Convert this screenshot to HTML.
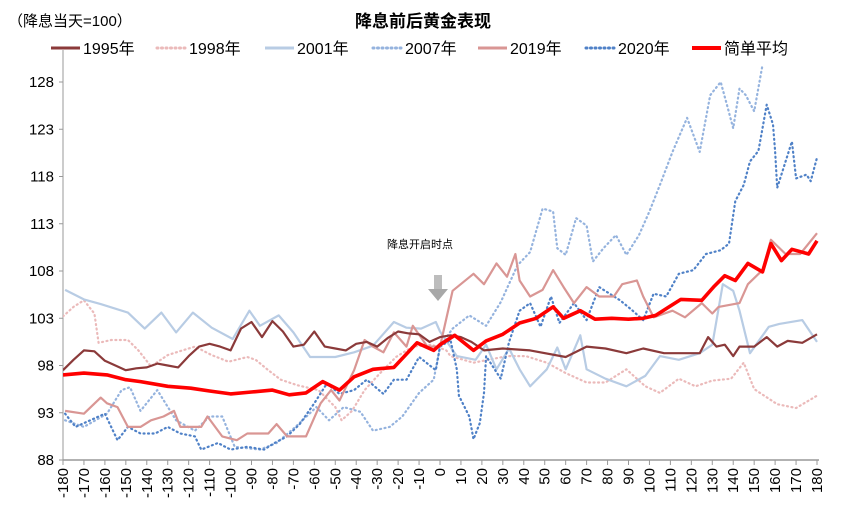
<!DOCTYPE html>
<html><head><meta charset="utf-8">
<style>
body{margin:0;background:#fff;font-family:"Liberation Sans","Noto Sans CJK SC",sans-serif;}
svg text{font-family:"Liberation Sans","Noto Sans CJK SC",sans-serif;}
</style></head>
<body>
<svg id="chart" width="843" height="514" viewBox="0 0 843 514" xmlns="http://www.w3.org/2000/svg">
<text x="8" y="26" font-size="15" fill="#000">（降息当天=100）</text>
<text x="423" y="27" font-size="17" font-weight="bold" text-anchor="middle" fill="#000">降息前后黄金表现</text>
<g id="legend"></g>
<g id="axes"></g>
<g id="series"></g>
<text x="420" y="248" font-size="11" text-anchor="middle" fill="#000">降息开启时点</text>
<g>
<rect x="434" y="275" width="8" height="14" fill="#bdbdbd"/>
<polygon points="428,289 448,289 438,301" fill="#a8a8a8"/>
</g>
</svg>
<script>
const yTicks=[88,93,98,103,108,113,118,123,128];
const xTicks=[-180,-170,-160,-150,-140,-130,-120,-110,-100,-90,-80,-70,-60,-50,-40,-30,-20,-10,0,10,20,30,40,50,60,70,80,90,100,110,120,130,140,150,160,170,180];
const seriesNames=["1995年","1998年","2001年","2007年","2019年","2020年","简单平均"];
const days1995=[-180,-175,-170,-165,-160,-155,-150,-145,-140,-135,-130,-125,-120,-115,-110,-105,-100,-95,-90,-85,-80,-75,-70,-65,-60,-55,-50,-45,-40,-35,-30,-25,-20,-15,-10,-5,0,5,10,15,21,30,43,60,70,79,89,97,107,118,124,128,132,136,140,143,150,156,161,166,173,180];
const vals1995=[97.5,98.6,99.6,99.5,98.5,98.0,97.5,97.7,97.8,98.2,98.0,97.8,99.0,100.0,100.3,100.0,99.6,101.9,102.6,101.0,102.7,101.6,100.0,100.2,101.6,100.0,99.8,99.6,100.3,100.5,100.0,100.9,101.6,101.4,101.3,100.5,101.0,101.2,101.0,100.5,99.6,99.8,99.6,98.9,100.0,99.8,99.3,99.8,99.3,99.3,99.3,101.0,100.0,100.2,99.0,100.0,100.0,101.0,100.0,100.6,100.4,101.3];
const days1998=[-180,-175,-170,-165,-163,-157,-149,-144,-138,-130,-123,-117,-109,-101,-92,-88,-82,-76,-68,-58,-50,-47,-42,-36,-29,-21,-13,-4,3,5,16,32,41,51,60,70,79,89,98,105,114,122,130,139,145,150,161,170,180];
const vals1998=[103.2,104.2,104.9,103.5,100.4,100.7,100.7,99.6,97.9,99.1,99.6,100.0,99.1,98.4,98.9,98.6,97.5,96.5,95.9,95.4,93.6,92.2,93.2,95.4,97.1,98.9,100.0,100.2,99.6,99.0,98.3,99.0,99.0,98.3,97.2,96.2,96.2,97.6,95.8,95.1,96.6,95.8,96.4,96.6,98.3,95.5,93.9,93.5,94.8];
const days2001=[-179,-170,-162,-149,-141,-133,-126,-118,-109,-99,-91,-86,-77,-70,-62,-50,-41,-32,-22,-16,-9,-2,0,8,17,22,27,33,38,43,51,56,60,67,70,79,89,98,105,114,124,130,135,140,143,148,157,162,173,180];
const vals2001=[106.0,105.0,104.5,103.6,101.9,103.6,101.5,103.6,102.0,100.8,103.8,102.2,103.3,101.5,98.9,98.9,99.4,100.1,102.6,102.0,101.9,102.6,101.6,99.0,98.6,100.2,97.6,99.8,97.6,95.8,97.6,99.9,97.6,101.2,97.6,96.6,95.8,96.9,99.0,98.6,99.3,100.2,106.6,105.9,103.8,99.3,102.1,102.4,102.8,100.5];
const days2007=[-179,-170,-159,-152,-148,-143,-135,-126,-117,-110,-104,-98,-86,-78,-69,-59,-53,-46,-38,-32,-24,-18,-10,-3,0,6,14,22,29,37,43,49,54,56,60,65,70,73,78,84,89,95,100,105,111,118,124,129,134,137,140,143,146,150,154];
const vals2007=[92.2,91.5,92.9,95.4,95.7,93.2,95.4,92.2,91.1,92.6,92.6,89.4,89.1,89.8,91.5,93.6,92.2,93.6,93.1,91.1,91.5,92.6,95.1,96.5,100.0,101.9,103.3,102.2,104.7,108.6,110.0,114.6,114.3,110.4,109.7,113.6,112.8,109.0,110.4,111.8,109.7,111.8,114.3,117.1,120.6,124.2,120.6,126.6,128.0,125.6,123.1,127.3,126.6,124.9,129.8];
const days2019=[-179,-170,-162,-159,-154,-149,-143,-138,-132,-127,-124,-114,-111,-104,-97,-92,-82,-78,-73,-64,-57,-52,-48,-41,-36,-32,-27,-22,-16,-13,-6,0,6,16,21,27,32,36,38,43,49,54,59,64,70,76,83,87,94,97,102,111,117,125,130,133,143,147,154,158,165,172,180];
const vals2019=[93.2,92.9,94.6,94.0,93.6,91.5,91.5,92.2,92.6,93.2,91.5,91.5,92.6,90.5,90.1,90.8,90.8,91.8,90.5,90.5,94.0,95.4,94.3,97.5,100.7,100.0,99.4,101.5,100.0,102.2,100.0,100.0,105.9,107.7,106.6,108.8,107.4,109.8,107.0,105.3,106.0,108.1,106.3,104.6,106.3,105.3,105.3,106.6,107.0,105.3,103.1,103.8,103.1,104.6,103.5,104.2,104.6,106.6,108.1,111.3,109.8,109.8,112.0];
const days2020=[-179,-174,-167,-160,-154,-149,-143,-136,-130,-124,-117,-114,-106,-100,-92,-84,-79,-73,-67,-60,-54,-48,-41,-35,-27,-22,-16,-10,-2,0,5,8,9,14,16,19,21,22,29,33,38,43,48,53,57,64,70,76,81,86,92,97,102,108,114,121,127,134,138,141,145,148,152,154,156,159,160,161,164,168,170,175,177,180];
const vals2020=[92.9,91.5,92.2,92.9,90.1,91.5,90.8,90.8,91.5,90.8,90.5,89.1,89.8,89.1,89.4,89.1,89.8,90.5,91.8,94.0,96.1,95.0,95.4,96.5,95.0,96.5,96.5,98.9,97.5,100.0,100.7,97.6,94.8,92.6,90.2,91.9,95.1,99.0,96.6,100.5,103.8,104.6,102.1,105.3,102.5,104.6,102.8,106.3,105.6,104.9,103.8,102.8,105.6,105.3,107.7,108.1,109.8,110.2,110.9,115.4,117.1,119.6,120.7,123.1,125.6,123.5,120.7,116.8,118.9,121.7,117.8,118.2,117.5,120.0];
const daysAvg=[-180,-170,-159,-150,-143,-130,-119,-110,-100,-90,-80,-72,-64,-56,-48,-41,-32,-22,-11,-3,0,7,16,22,30,38,46,54,59,67,74,82,90,97,103,110,115,125,131,136,141,147,154,158,163,168,176,180];
const valsAvg=[97.0,97.2,97.0,96.5,96.3,95.8,95.6,95.3,95.0,95.2,95.4,94.9,95.1,96.3,95.4,96.8,97.6,97.8,100.4,99.6,100.2,101.2,99.6,100.6,101.3,102.5,103.0,104.2,103.0,103.8,102.9,103.0,102.9,103.0,103.3,104.3,105.0,104.9,106.4,107.5,107.0,108.8,107.9,110.9,109.1,110.3,109.8,111.2];

const NS="http://www.w3.org/2000/svg";
const L=63,R=817,T=50,B=460;
function xScale(d){return L+(d+180)/360*(R-L);}
function yScale(v){return B-(v-88)/40*(460-82);}
const svg=document.getElementById('chart');
const axes=document.getElementById('axes');
const sg=document.getElementById('series');
const lg=document.getElementById('legend');
function mk(tag,attrs,parent){const e=document.createElementNS(NS,tag);for(const k in attrs)e.setAttribute(k,attrs[k]);parent.appendChild(e);return e;}

let ax=mk('line',{x1:L,y1:T,x2:L,y2:B,stroke:'#999','stroke-width':1},axes);


let bx=mk('line',{x1:L,y1:B,x2:R+2,y2:B,stroke:'#999','stroke-width':1.5},axes);


yTicks.forEach(v=>{
  const y=yScale(v);
  mk('line',{x1:L-4,y1:y,x2:L,y2:y,stroke:'#999'},axes);
  const t=mk('text',{x:L-9,y:y+5,'font-size':15,'text-anchor':'end',fill:'#000'},axes);
  t.textContent=v;
  
  
});
xTicks.forEach(d=>{
  const x=xScale(d);
  mk('line',{x1:x,y1:B,x2:x,y2:B+5,stroke:'#999'},axes);
  const t=mk('text',{x:0,y:0,'font-size':15,'text-anchor':'end',fill:'#000',transform:`translate(${x+5},${B+8}) rotate(-90)`},axes);
  t.textContent=d;
  
  
});

const styles=[
 {c:'#8B3A3A',w:2.2,dash:null},
 {c:'#EBBABA',w:2.2,dash:'1 3.5'},
 {c:'#B8CCE4',w:2.2,dash:null},
 {c:'#95B3DE',w:2.2,dash:'1 3.5'},
 {c:'#D99694',w:2.2,dash:null},
 {c:'#4F81C7',w:2.2,dash:'1 3.5'},
 {c:'#FF0000',w:3.6,dash:null}
];
const data=[[days1995,vals1995],[days1998,vals1998],[days2001,vals2001],[days2007,vals2007],[days2019,vals2019],[days2020,vals2020],[daysAvg,valsAvg]];
const seriesKeys=['series-1995','series-1998','series-2001','series-2007','series-2019','series-2020','series-average'];
const drawOrder=[1,3,2,5,4,0,6];
const clip=mk('clipPath',{id:'pc'},svg);
mk('rect',{x:L,y:T-10,width:R-L+5,height:B-T+10},clip);
sg.setAttribute('clip-path','url(#pc)');
drawOrder.forEach(i=>{
  const [ds,vs]=data[i];const s=styles[i];
  const pts=ds.map((d,k)=>xScale(d).toFixed(1)+','+yScale(vs[k]).toFixed(1)).join(' ');
  const a={points:pts,fill:'none',stroke:s.c,'stroke-width':s.w,'stroke-linejoin':'round'};
  if(s.dash){a['stroke-dasharray']=s.dash;a['stroke-linecap']='round';}
  const p=mk('polyline',a,sg);
  
  
});
const legX=[51,157,265,373,478,586,692];
seriesNames.forEach((n,i)=>{
  const s=styles[i];const x=legX[i];const y=48;
  const g=mk('g',{},lg);
  
  
  const a={x1:x,y1:y,x2:x+29,y2:y,stroke:s.c,'stroke-width':i==6?4:3};
  if(s.dash){a['stroke-dasharray']=s.dash;a['stroke-linecap']='round';}
  mk('line',a,g);
  const t=mk('text',{x:x+32,y:y+6,'font-size':16,fill:'#000'},g);
  t.textContent=n;
});
</script>
</body></html>
